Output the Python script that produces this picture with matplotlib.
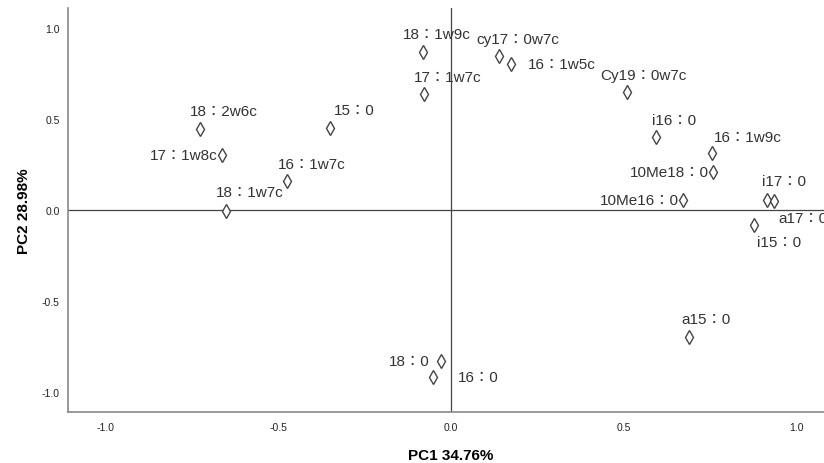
import matplotlib
matplotlib.use("Agg")
import matplotlib.pyplot as plt

labels = ["18：2w6c", "17：1w8c", "18：1w7c", "16：1w7c", "15：0",
          "18：1w9c", "17：1w7c", "cy17：0w7c", "16：1w5c", "Cy19：0w7c",
          "i16：0", "16：1w9c", "10Me18：0", "10Me16：0", "i17：0",
          "a17：0", "i15：0", "a15：0", "18：0", "16：0"]
pc1 = [-0.728, -0.665, -0.653, -0.474, -0.351,
       -0.082, -0.078, 0.140, 0.174, 0.509,
       0.594, 0.755, 0.760, 0.673, 0.915,
       0.936, 0.878, 0.689, -0.029, -0.051]
pc2 = [0.445, 0.304, -0.004, 0.161, 0.450,
       0.866, 0.637, 0.848, 0.802, 0.647,
       0.403, 0.311, 0.207, 0.055, 0.055,
       0.051, -0.082, -0.700, -0.831, -0.919]
xticks = [-1.0, -0.5, 0.0, 0.5, 1.0]
yticks = [-1.0, -0.5, 0.0, 0.5, 1.0]

# label placement (offset pixels, alignment)
offsets = [(-10, 18, "left"), (-4, 0, "right"), (-10, 19, "left"), (-10, 17, "left"), (4, 18, "left"),
           (-20, 18, "left"), (-10, 17, "left"), (-23, 17, "left"), (17, 0, "left"), (-26, 17, "left"),
           (-4, 17, "left"), (2, 16, "left"), (-4, 0, "right"), (-4, 0, "right"), (-5, 19, "left"),
           (4, -17, "left"), (3, -17, "left"), (-7, 18, "left"), (-11, 0, "right"), (24, 0, "left")]

fam = ["Liberation Sans", "Noto Sans CJK JP", "DejaVu Sans"]

fig = plt.figure(figsize=(8.24, 4.64), dpi=100)
ax = fig.add_axes([68 / 824, 51 / 464, 766 / 824, 404 / 464])
ax.set_xlim(-1.11, 1.11)
ax.set_ylim(-1.11, 1.11)

ax.axhline(0, color="#444444", lw=0.9, zorder=1)
ax.axvline(0, color="#444444", lw=0.9, zorder=1)

ax.plot(pc1, pc2, linestyle="none", marker="d", markersize=7,
        markerfacecolor="white", markeredgecolor="#444444", markeredgewidth=1.0, zorder=3)

for lab, x, y, (dx, dy, ha) in zip(labels, pc1, pc2, offsets):
    ax.annotate(lab, (x, y), xytext=(dx, dy), textcoords="offset pixels",
                ha=ha, va="center", fontsize=11, color="#333333", family=fam,
                annotation_clip=False, zorder=4)

for s in ["top", "right"]:
    ax.spines[s].set_visible(False)
for s in ["left", "bottom"]:
    ax.spines[s].set_color("#888888")
    ax.spines[s].set_linewidth(1.2)

ax.set_xticks(xticks)
ax.set_yticks(yticks)
ax.set_xticklabels([f"{v:.1f}" for v in xticks], family=fam, fontsize=7.5, color="#222222")
ax.set_yticklabels([f"{v:.1f}" for v in yticks], family=fam, fontsize=7.5, color="#222222")
ax.tick_params(axis="both", length=0)
ax.tick_params(axis="x", pad=7)
ax.tick_params(axis="y", pad=6)

ax.set_xlabel("PC1 34.76%", family=fam, fontsize=11, fontweight="bold", labelpad=12)
ax.set_ylabel("PC2 28.98%", family=fam, fontsize=11, fontweight="bold", labelpad=8)

fig.savefig("out.png", dpi=100)
